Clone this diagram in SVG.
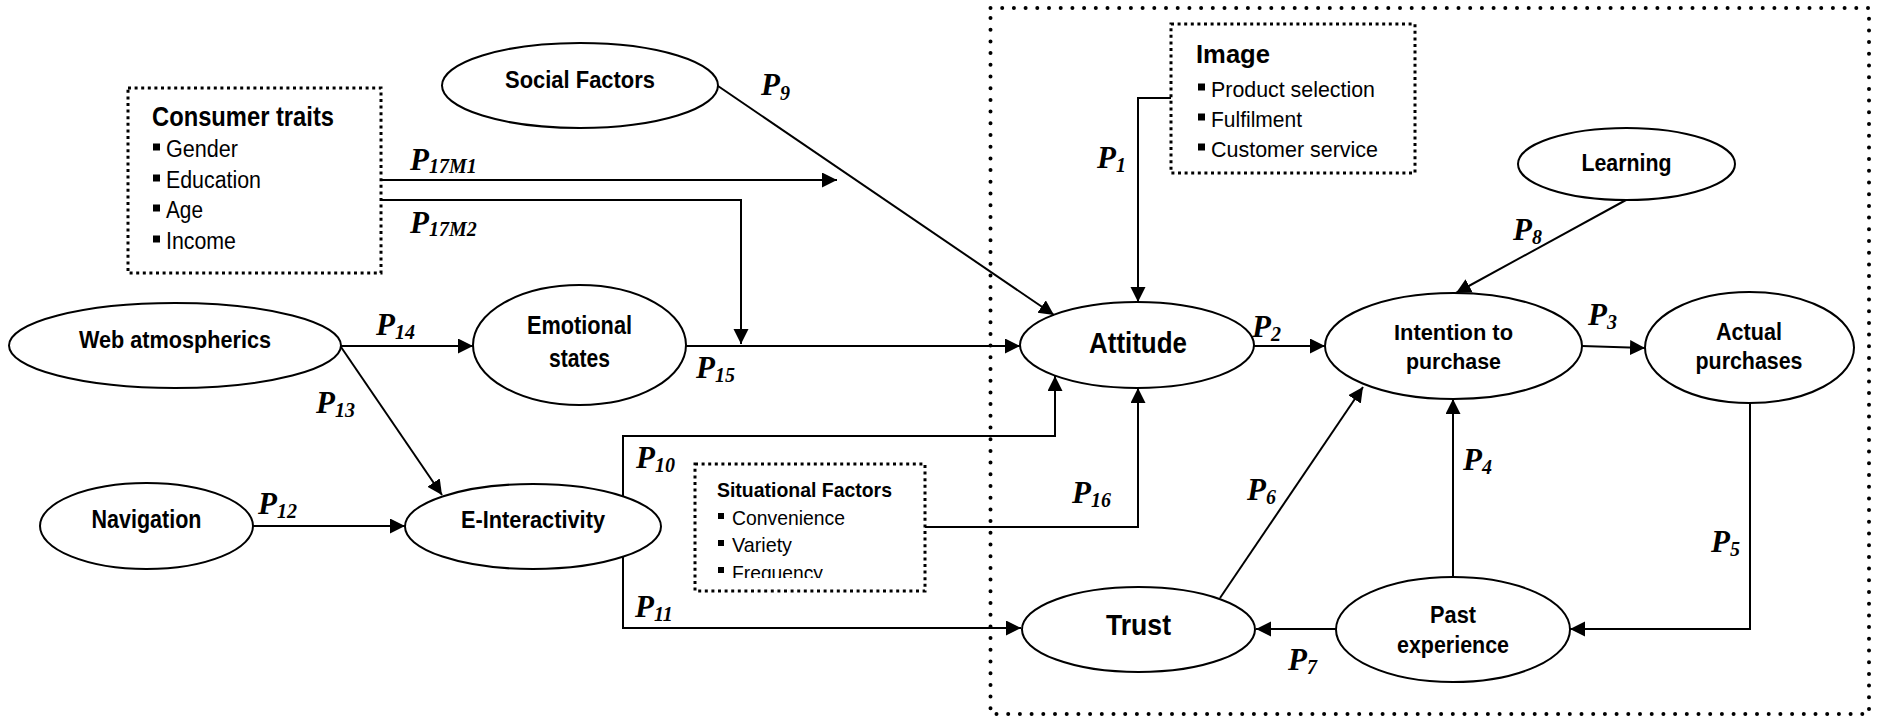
<svg xmlns="http://www.w3.org/2000/svg" width="1885" height="720" viewBox="0 0 1885 720">
<style>
.n{fill:#fff;stroke:#000;stroke-width:2}
.t{font-family:"Liberation Sans",Arial,sans-serif;font-weight:bold;font-size:23px;text-anchor:middle;fill:#000}
.big{font-size:30px}
.h{font-family:"Liberation Sans",Arial,sans-serif;font-weight:bold;font-size:27px;fill:#000}
.i{font-family:"Liberation Sans",Arial,sans-serif;font-size:23px;fill:#000}
.lbl{font-family:"Liberation Serif","Times New Roman",serif;font-weight:bold;font-style:italic;font-size:31px;fill:#000}
.sub{font-size:20px}
.c{fill:none;stroke:#000;stroke-width:2}
.dbox{fill:none;stroke:#000;stroke-width:3;stroke-dasharray:3 3.6}
.big-dot{fill:none;stroke:#000;stroke-width:4;stroke-dasharray:0 11.7;stroke-linecap:round}
</style>
<defs>
<marker id="ah" markerUnits="userSpaceOnUse" markerWidth="16" markerHeight="16" refX="15" refY="7.5" orient="auto">
<path d="M0,0 L15,7.5 L0,15 z" fill="#000"/>
</marker>
<clipPath id="sitclip"><rect x="690" y="460" width="240" height="118"/></clipPath>
</defs>

<g id="region">
<rect class="big-dot" x="990.5" y="8" width="878.5" height="706"/>
</g>

<g id="consumer-traits">
<rect class="dbox" x="128" y="88" width="253" height="185"/>
<text class="h" x="152" y="126" textLength="182" lengthAdjust="spacingAndGlyphs">Consumer traits</text>
<rect x="153" y="143.5" width="7" height="7"/><text class="i" x="166" y="157" textLength="72" lengthAdjust="spacingAndGlyphs">Gender</text>
<rect x="153" y="174.5" width="7" height="7"/><text class="i" x="166" y="188" textLength="95" lengthAdjust="spacingAndGlyphs">Education</text>
<rect x="153" y="204.5" width="7" height="7"/><text class="i" x="166" y="218" textLength="37" lengthAdjust="spacingAndGlyphs">Age</text>
<rect x="153" y="235.5" width="7" height="7"/><text class="i" x="166" y="249" textLength="70" lengthAdjust="spacingAndGlyphs">Income</text>
</g>

<g id="image">
<rect class="dbox" x="1171" y="24" width="244" height="149"/>
<text class="h" x="1196" y="63" style="font-size:26px" textLength="74" lengthAdjust="spacingAndGlyphs">Image</text>
<rect x="1198" y="83.5" width="7" height="7"/><text class="i" x="1211" y="97" style="font-size:21.5px" textLength="164" lengthAdjust="spacingAndGlyphs">Product selection</text>
<rect x="1198" y="113.5" width="7" height="7"/><text class="i" x="1211" y="127" style="font-size:21.5px" textLength="91" lengthAdjust="spacingAndGlyphs">Fulfilment</text>
<rect x="1198" y="143.5" width="7" height="7"/><text class="i" x="1211" y="157" style="font-size:21.5px" textLength="167" lengthAdjust="spacingAndGlyphs">Customer service</text>
</g>

<g id="situational-factors">
<rect class="dbox" x="695" y="464" width="230" height="127"/>
<text class="h" x="717" y="497" style="font-size:20.5px" textLength="175" lengthAdjust="spacingAndGlyphs">Situational Factors</text>
<g clip-path="url(#sitclip)">
<rect x="718" y="513" width="6" height="6"/><text class="i" x="732" y="525" style="font-size:21px" textLength="113" lengthAdjust="spacingAndGlyphs">Convenience</text>
<rect x="718" y="540" width="6" height="6"/><text class="i" x="732" y="552" style="font-size:21px" textLength="60" lengthAdjust="spacingAndGlyphs">Variety</text>
<rect x="718" y="567" width="6" height="6"/><text class="i" x="732" y="580" style="font-size:21px" textLength="91" lengthAdjust="spacingAndGlyphs">Frequency</text>
</g>
</g>

<g id="social-factors">
<ellipse class="n" cx="580" cy="85.5" rx="138" ry="42.5"/>
<text class="t" x="580" y="88" style="font-size:24px" textLength="150" lengthAdjust="spacingAndGlyphs">Social Factors</text>
</g>
<g id="web-atmospherics">
<ellipse class="n" cx="175" cy="345.5" rx="166" ry="42.5"/>
<text class="t" x="175" y="348" style="font-size:24.5px" textLength="192" lengthAdjust="spacingAndGlyphs">Web atmospherics</text>
</g>
<g id="emotional-states">
<ellipse class="n" cx="579.5" cy="345" rx="106.5" ry="60"/>
<text class="t" x="579.5" y="334" style="font-size:25px" textLength="105" lengthAdjust="spacingAndGlyphs">Emotional</text>
<text class="t" x="579.5" y="367" style="font-size:25px" textLength="61" lengthAdjust="spacingAndGlyphs">states</text>
</g>
<g id="navigation">
<ellipse class="n" cx="146.5" cy="526" rx="106.5" ry="43"/>
<text class="t" x="146.5" y="528" style="font-size:25px" textLength="110" lengthAdjust="spacingAndGlyphs">Navigation</text>
</g>
<g id="e-interactivity">
<ellipse class="n" cx="533" cy="526.5" rx="128" ry="42.5"/>
<text class="t" x="533" y="528" style="font-size:23.5px" textLength="144" lengthAdjust="spacingAndGlyphs">E-Interactivity</text>
</g>
<g id="attitude">
<ellipse class="n" cx="1137" cy="345" rx="117" ry="43"/>
<text class="t big" x="1138" y="353" textLength="98" lengthAdjust="spacingAndGlyphs">Attitude</text>
</g>
<g id="intention">
<ellipse class="n" cx="1453.5" cy="346" rx="128.5" ry="53"/>
<text class="t" x="1453.5" y="340" style="font-size:22.5px" textLength="119" lengthAdjust="spacingAndGlyphs">Intention to</text>
<text class="t" x="1453.5" y="369" style="font-size:22.5px" textLength="95" lengthAdjust="spacingAndGlyphs">purchase</text>
</g>
<g id="actual-purchases">
<ellipse class="n" cx="1749.5" cy="347.5" rx="104.5" ry="55.5"/>
<text class="t" x="1749" y="340" textLength="66" lengthAdjust="spacingAndGlyphs">Actual</text>
<text class="t" x="1749" y="369" textLength="107" lengthAdjust="spacingAndGlyphs">purchases</text>
</g>
<g id="learning">
<ellipse class="n" cx="1626.5" cy="164" rx="108.5" ry="36"/>
<text class="t" x="1626.5" y="171" textLength="90" lengthAdjust="spacingAndGlyphs">Learning</text>
</g>
<g id="trust">
<ellipse class="n" cx="1138.5" cy="629.5" rx="116.5" ry="42.5"/>
<text class="t big" x="1138.5" y="635" textLength="65" lengthAdjust="spacingAndGlyphs">Trust</text>
</g>
<g id="past-experience">
<ellipse class="n" cx="1453" cy="629.5" rx="117" ry="52.5"/>
<text class="t" x="1453" y="623" textLength="46" lengthAdjust="spacingAndGlyphs">Past</text>
<text class="t" x="1453" y="653" textLength="112" lengthAdjust="spacingAndGlyphs">experience</text>
</g>

<g id="connectors">
<path class="c" d="M718,86 L1054,315" marker-end="url(#ah)"/>
<path class="c" d="M381,180 H837" marker-end="url(#ah)"/>
<path class="c" d="M381,200 H741 V344" marker-end="url(#ah)"/>
<path class="c" d="M1171,98 H1138 V302" marker-end="url(#ah)"/>
<path class="c" d="M341,346 H473" marker-end="url(#ah)"/>
<path class="c" d="M686,346 H1020" marker-end="url(#ah)"/>
<path class="c" d="M341,347 L442,495" marker-end="url(#ah)"/>
<path class="c" d="M253,526 H405" marker-end="url(#ah)"/>
<path class="c" d="M623,496 V436 H1055 V376" marker-end="url(#ah)"/>
<path class="c" d="M623,557 V628 H1021" marker-end="url(#ah)"/>
<path class="c" d="M925,527 H1138 V388" marker-end="url(#ah)"/>
<path class="c" d="M1254,346 H1325" marker-end="url(#ah)"/>
<path class="c" d="M1582,346 L1645,348" marker-end="url(#ah)"/>
<path class="c" d="M1626,200 L1456,293" marker-end="url(#ah)"/>
<path class="c" d="M1453,577 V399" marker-end="url(#ah)"/>
<path class="c" d="M1750,403 V629 H1570" marker-end="url(#ah)"/>
<path class="c" d="M1220,598 L1363,387" marker-end="url(#ah)"/>
<path class="c" d="M1336,629 H1256" marker-end="url(#ah)"/>
</g>

<g id="labels">
<text class="lbl" x="761" y="95">P<tspan class="sub" dy="5">9</tspan></text>
<text class="lbl" x="410" y="170">P<tspan class="sub" dy="3">17M1</tspan></text>
<text class="lbl" x="410" y="233">P<tspan class="sub" dy="3">17M2</tspan></text>
<text class="lbl" x="1097" y="168">P<tspan class="sub" dy="4">1</tspan></text>
<text class="lbl" x="1513" y="240">P<tspan class="sub" dy="4">8</tspan></text>
<text class="lbl" x="376" y="335">P<tspan class="sub" dy="4">14</tspan></text>
<text class="lbl" x="1252" y="337">P<tspan class="sub" dy="4">2</tspan></text>
<text class="lbl" x="1588" y="325">P<tspan class="sub" dy="4">3</tspan></text>
<text class="lbl" x="696" y="378">P<tspan class="sub" dy="4">15</tspan></text>
<text class="lbl" x="316" y="413">P<tspan class="sub" dy="4">13</tspan></text>
<text class="lbl" x="636" y="468">P<tspan class="sub" dy="4">10</tspan></text>
<text class="lbl" x="1072" y="503">P<tspan class="sub" dy="4">16</tspan></text>
<text class="lbl" x="1247" y="500">P<tspan class="sub" dy="4">6</tspan></text>
<text class="lbl" x="1463" y="470">P<tspan class="sub" dy="4">4</tspan></text>
<text class="lbl" x="258" y="514">P<tspan class="sub" dy="4">12</tspan></text>
<text class="lbl" x="1711" y="552">P<tspan class="sub" dy="4">5</tspan></text>
<text class="lbl" x="635" y="617">P<tspan class="sub" dy="4">11</tspan></text>
<text class="lbl" x="1288" y="670">P<tspan class="sub" dy="4">7</tspan></text>
</g>
</svg>
